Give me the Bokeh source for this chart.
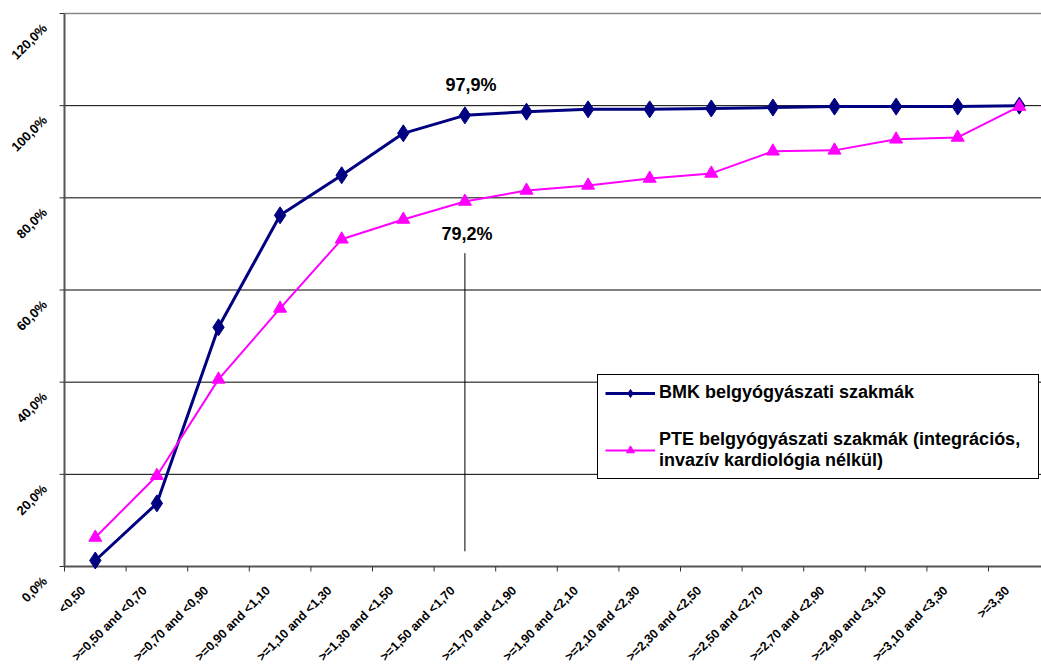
import math
from bokeh.plotting import figure
from bokeh.models import Range1d, Legend, LegendItem, ColumnDataSource
from bokeh.embed import file_html
from bokeh.resources import INLINE

categories = ["<0,50", ">=0,50 and <0,70", ">=0,70 and <0,90", ">=0,90 and <1,10",
              ">=1,10 and <1,30", ">=1,30 and <1,50", ">=1,50 and <1,70",
              ">=1,70 and <1,90", ">=1,90 and <2,10", ">=2,10 and <2,30",
              ">=2,30 and <2,50", ">=2,50 and <2,70", ">=2,70 and <2,90",
              ">=2,90 and <3,10", ">=3,10 and <3,30", ">=3,30"]
bmk = [1.3, 13.7, 51.9, 76.2, 84.9, 94.0, 97.9, 98.7, 99.2, 99.2, 99.4, 99.6,
       99.8, 99.8, 99.8, 100.0]
pte = [6.3, 19.7, 40.6, 56.0, 71.0, 75.3, 79.2, 81.6, 82.7, 84.2, 85.3, 90.1,
       90.3, 92.7, 93.1, 99.8]
y_ticks = [0, 20, 40, 60, 80, 100, 120]
marked_index = 6

FONT = "Liberation Sans"
ANGLE = math.pi / 4
W, H = 1041, 666

# plotting area in canvas pixels; the figure frame covers the whole canvas so
# axis texts can sit outside the value area
LEFT, TOP, BOTTOM = 64, 13, 566
PX_X = 61.6                       # pixels per category
PX_Y = (BOTTOM - TOP) / 120.0     # pixels per percent
n = len(categories)
xs = [i + 0.5 for i in range(n)]
x_end = (W - LEFT) / PX_X

p = figure(width=W, height=H, output_backend="svg", toolbar_location=None,
           x_axis_type=None, y_axis_type=None,
           x_range=Range1d(-LEFT / PX_X, x_end),
           y_range=Range1d(-(H - BOTTOM) / PX_Y, 120 + TOP / PX_Y),
           min_border=0, outline_line_color=None)
p.background_fill_color = "white"
p.border_fill_color = "white"
p.xgrid.visible = False
p.ygrid.visible = False

# horizontal gridlines
grid_vals = [v for v in y_ticks if 0 < v < 120]
p.segment(x0=[0] * len(grid_vals), y0=grid_vals, x1=[x_end] * len(grid_vals),
          y1=grid_vals, line_color="black", line_width=1)
p.segment(x0=[0], y0=[120], x1=[x_end], y1=[120], line_color="#888888", line_width=1.5)

# axis lines and ticks
p.segment(x0=[0], y0=[0], x1=[0], y1=[120], line_color="#555555", line_width=2)
p.segment(x0=[0], y0=[0], x1=[x_end], y1=[0], line_color="#555555", line_width=2)
p.segment(x0=[0] * len(y_ticks), y0=y_ticks, x1=[-5 / PX_X] * len(y_ticks),
          y1=y_ticks, line_color="#333333", line_width=1)
bounds = list(range(n))
p.segment(x0=bounds, y0=[0] * n, x1=bounds, y1=[-5 / PX_Y] * n,
          line_color="#333333", line_width=1)

# rotated tick labels (offsets in screen pixels, positive y downwards)
p.text(x=xs, y=[0] * n, text=categories, angle=ANGLE, x_offset=-17, y_offset=17,
       text_align="right", text_baseline="top", text_color="black",
       text_font={"value": FONT}, text_font_style="bold", text_font_size="12.5px")
p.text(x=[0] * len(y_ticks), y=y_ticks, text=[f"{v},0%" for v in y_ticks],
       angle=ANGLE, x_offset=-25, y_offset=7,
       text_align="right", text_baseline="top", text_color="black",
       text_font={"value": FONT}, text_font_style="bold", text_font_size="13px")

src = ColumnDataSource(dict(x=xs, bmk=bmk, pte=pte))

l1 = p.line("x", "bmk", source=src, line_color="#000080", line_width=3)
m1 = p.scatter("x", "bmk", source=src, marker="diamond", size=17,
               fill_color="#000080", line_color="#000080")
l2 = p.line("x", "pte", source=src, line_color="#FF00FF", line_width=2)
m2 = p.scatter("x", "pte", source=src, marker="triangle", size=13,
               fill_color="#FF00FF", line_color="#FF00FF")

# reference marker at the highlighted category
mx = xs[marked_index]
p.segment(x0=[mx], y0=[3.3], x1=[mx], y1=[68.0], line_color="black", line_width=1)

p.text(x=[mx, mx], y=[bmk[marked_index], pte[marked_index]],
       text=[f"{bmk[marked_index]:.1f}%".replace(".", ","),
             f"{pte[marked_index]:.1f}%".replace(".", ",")],
       x_offset=[6, 2], y_offset=[-30, 32], text_align="center",
       text_baseline="middle", text_color="black", text_font={"value": FONT},
       text_font_style="bold", text_font_size="18px")

legend = Legend(items=[
    LegendItem(label="BMK belgyógyászati szakmák", renderers=[l1, m1]),
    LegendItem(label="PTE belgyógyászati szakmák (integrációs,\ninvazív kardiológia nélkül)",
               renderers=[l2, m2]),
], location=(597, 187))
legend.label_text_font = FONT
legend.label_text_font_style = "bold"
legend.label_text_font_size = "18px"
legend.label_text_color = "black"
legend.border_line_color = "black"
legend.border_line_width = 1
legend.border_line_alpha = 1
legend.background_fill_alpha = 1
legend.spacing = 26
legend.padding = 7
legend.margin = 0
legend.glyph_width = 50
legend.label_standoff = 4
legend.label_width = 372
p.add_layout(legend, "center")

open("out.html", "w").write(file_html(p, INLINE))
